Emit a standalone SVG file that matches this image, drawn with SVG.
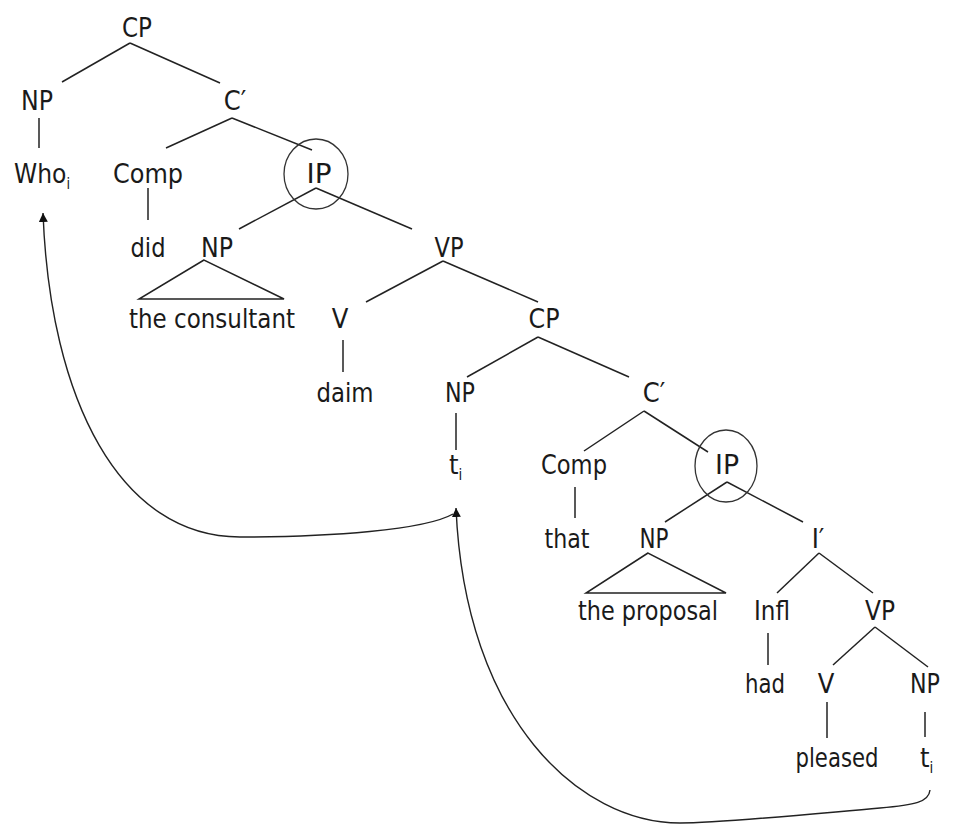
<svg xmlns="http://www.w3.org/2000/svg" width="966" height="825" viewBox="0 0 966 825">
<defs>
<style>
text{font-family:"DejaVu Sans Condensed","DejaVu Sans",sans-serif;font-size:27px;fill:#1a1a1a;text-anchor:middle}
text.s{text-anchor:start}
tspan.sub{font-size:15px}
.e{stroke:#222;stroke-width:1.5;fill:none}
.c{stroke:#333;stroke-width:1.3;fill:none}
.a{stroke:#222;stroke-width:1.4;fill:none;marker-end:url(#ah)}
</style>
<marker id="ah" viewBox="0 0 10 10" refX="10" refY="5" markerWidth="9" markerHeight="9" markerUnits="userSpaceOnUse" orient="auto">
<path d="M0,0 L10,5 L0,10 z" fill="#111"/>
</marker>
</defs>
<rect width="966" height="825" fill="#fff"/>
<g id="connectors">
<line class="e" x1="130" y1="43" x2="62" y2="82"/>
<line class="e" x1="130" y1="43" x2="220" y2="83"/>
<line class="e" x1="39" y1="118" x2="39" y2="148"/>
<line class="e" x1="232" y1="118" x2="166" y2="148"/>
<line class="e" x1="232" y1="118" x2="312" y2="150"/>
<line class="e" x1="148" y1="188" x2="148" y2="220"/>
<line class="e" x1="316" y1="188" x2="239" y2="229"/>
<line class="e" x1="316" y1="188" x2="412" y2="229"/>
<polygon class="e" points="204,260 139,299 284,299"/>
<line class="e" x1="443" y1="261" x2="366" y2="302"/>
<line class="e" x1="443" y1="261" x2="538" y2="302"/>
<line class="e" x1="343" y1="340" x2="343" y2="372"/>
<line class="e" x1="538" y1="337" x2="467" y2="377"/>
<line class="e" x1="538" y1="337" x2="629" y2="377"/>
<line class="e" x1="456" y1="413" x2="456" y2="450"/>
<line class="e" x1="644" y1="411" x2="584" y2="451"/>
<line class="e" x1="644" y1="411" x2="708" y2="452"/>
<line class="e" x1="575" y1="487" x2="575" y2="518"/>
<line class="e" x1="727" y1="482" x2="665" y2="522"/>
<line class="e" x1="727" y1="482" x2="803" y2="522"/>
<polygon class="e" points="648,553 586,593 726,593"/>
<line class="e" x1="819" y1="553" x2="777" y2="593"/>
<line class="e" x1="819" y1="553" x2="873" y2="593"/>
<line class="e" x1="768" y1="633" x2="768" y2="665"/>
<line class="e" x1="875" y1="627" x2="833" y2="665"/>
<line class="e" x1="875" y1="627" x2="928" y2="667"/>
<line class="e" x1="827" y1="702" x2="827" y2="738"/>
<line class="e" x1="925" y1="712" x2="925" y2="737"/>
<path class="a" d="M453,514 C425,530 330,537 240,537 C120,537 50,400 43,213"/>
<path class="a" d="M930,790 C929,802 915,805 880,808 C800,815 720,823 680,823 C580,823 465,720 456,508"/>
</g>
<g id="n-cp1"><text x="137" y="37" textLength="30" lengthAdjust="spacingAndGlyphs">CP</text></g>
<g id="n-np1"><text x="37" y="110" textLength="32" lengthAdjust="spacingAndGlyphs">NP</text></g>
<g id="n-cbar1"><text x="235" y="110">C′</text></g>
<g id="n-who"><text class="s" x="14" y="183" textLength="56" lengthAdjust="spacingAndGlyphs">Who<tspan class="sub" dy="6">i</tspan></text></g>
<g id="n-comp1"><text x="148" y="183" textLength="70" lengthAdjust="spacingAndGlyphs">Comp</text></g>
<g id="n-ip1"><ellipse class="c" cx="316" cy="174" rx="32" ry="35"/><text x="319" y="183" textLength="25" lengthAdjust="spacingAndGlyphs">IP</text></g>
<g id="n-did"><text x="148" y="257" textLength="35" lengthAdjust="spacingAndGlyphs">did</text></g>
<g id="n-np2"><text x="217" y="257" textLength="32" lengthAdjust="spacingAndGlyphs">NP</text></g>
<g id="n-consultant"><text x="212" y="328" textLength="166" lengthAdjust="spacingAndGlyphs">the consultant</text></g>
<g id="n-vp1"><text x="449" y="257" textLength="29" lengthAdjust="spacingAndGlyphs">VP</text></g>
<g id="n-v1"><text x="340" y="328">V</text></g>
<g id="n-cp2"><text x="544" y="328" textLength="31" lengthAdjust="spacingAndGlyphs">CP</text></g>
<g id="n-daim"><text x="345" y="402" textLength="57" lengthAdjust="spacingAndGlyphs">daim</text></g>
<g id="n-np3"><text x="460" y="402" textLength="30" lengthAdjust="spacingAndGlyphs">NP</text></g>
<g id="n-cbar2"><text x="654" y="402">C′</text></g>
<g id="n-t1"><text class="s" x="449" y="474">t<tspan class="sub" dy="6">i</tspan></text></g>
<g id="n-comp2"><text x="574" y="474" textLength="66" lengthAdjust="spacingAndGlyphs">Comp</text></g>
<g id="n-ip2"><ellipse class="c" cx="726" cy="466" rx="31" ry="36"/><text x="727" y="474" textLength="24" lengthAdjust="spacingAndGlyphs">IP</text></g>
<g id="n-that"><text x="567" y="548" textLength="45" lengthAdjust="spacingAndGlyphs">that</text></g>
<g id="n-np4"><text x="654" y="548" textLength="29" lengthAdjust="spacingAndGlyphs">NP</text></g>
<g id="n-ibar"><text x="818" y="548">I′</text></g>
<g id="n-proposal"><text x="648" y="620" textLength="140" lengthAdjust="spacingAndGlyphs">the proposal</text></g>
<g id="n-infl"><text x="772" y="620" textLength="36" lengthAdjust="spacingAndGlyphs">Infl</text></g>
<g id="n-vp2"><text x="880" y="620" textLength="30" lengthAdjust="spacingAndGlyphs">VP</text></g>
<g id="n-had"><text x="765" y="693" textLength="40" lengthAdjust="spacingAndGlyphs">had</text></g>
<g id="n-v2"><text x="826" y="693">V</text></g>
<g id="n-np5"><text x="925" y="693" textLength="30" lengthAdjust="spacingAndGlyphs">NP</text></g>
<g id="n-pleased"><text x="837" y="767" textLength="83" lengthAdjust="spacingAndGlyphs">pleased</text></g>
<g id="n-t2"><text class="s" x="920" y="767">t<tspan class="sub" dy="6">i</tspan></text></g>
</svg>
